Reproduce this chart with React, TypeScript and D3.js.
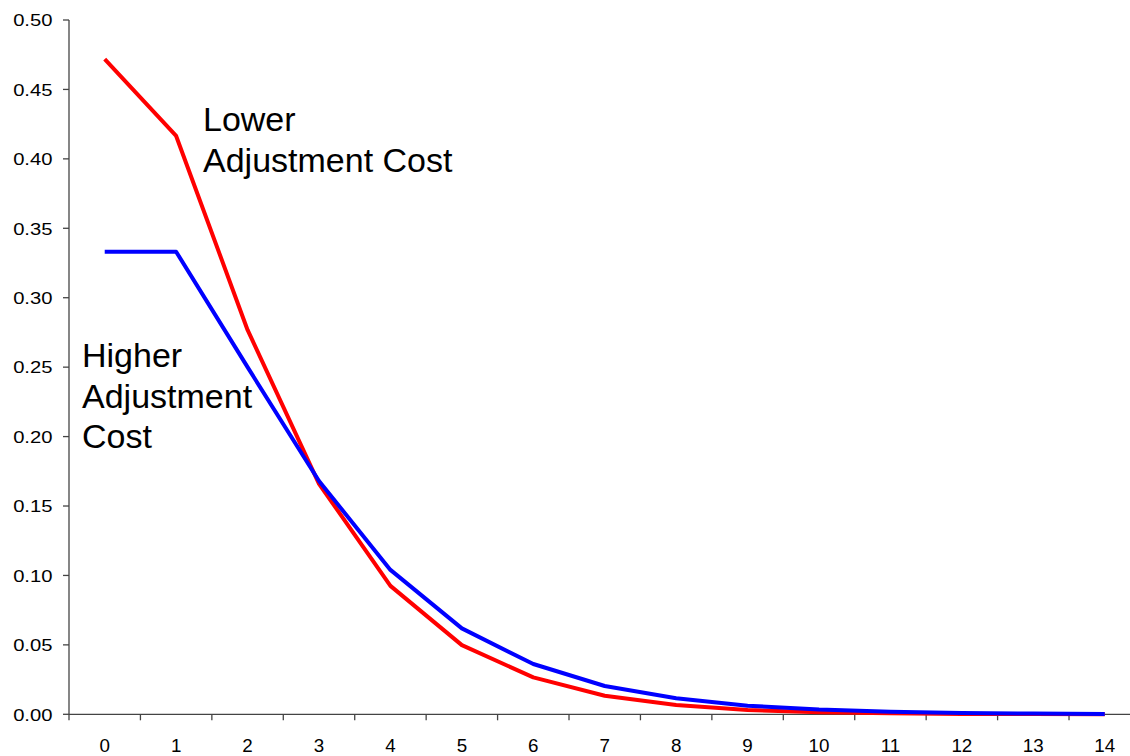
import React, { useEffect, useRef } from "react";
import * as d3 from "d3";

const categories = ["0","1","2","3","4","5","6","7","8","9","10","11","12","13","14"];
const lowerCost = [0.4718, 0.4165, 0.2768, 0.1660, 0.0925, 0.0498, 0.0266, 0.0134, 0.0067, 0.0031, 0.0015, 0.0007, 0.0003, 0.0002, 0.0001];
const higherCost = [0.3331, 0.3331, 0.2500, 0.1680, 0.1040, 0.0619, 0.0362, 0.0204, 0.0115, 0.0062, 0.0034, 0.0018, 0.0010, 0.0005, 0.0003];
const yTicks = [0, 0.05, 0.1, 0.15, 0.2, 0.25, 0.3, 0.35, 0.4, 0.45, 0.5];

const W = 1130;
const H = 756;
const left = 69;
const bandW = 71.43;
const top = 20;
const bottom = 714.3;

export default function App() {
  const ref = useRef<SVGSVGElement>(null);
  useEffect(() => {
    const svg = d3.select(ref.current);
    svg.selectAll("*").remove();
    const x = d3.scaleBand<string>().domain(categories).range([left, left + bandW * categories.length]).padding(0);
    const y = d3.scaleLinear().domain([0, 0.5]).range([bottom, top]);
    const font = "'Liberation Sans', Arial, sans-serif";

    // y axis
    svg.append("line").attr("x1", left).attr("x2", left).attr("y1", top).attr("y2", bottom).attr("stroke", "#444").attr("stroke-width", 1.3);
    yTicks.forEach((t) => {
      svg.append("line").attr("x1", left - 6).attr("x2", left).attr("y1", y(t)).attr("y2", y(t)).attr("stroke", "#444").attr("stroke-width", 1.3);
      svg.append("text").attr("transform", `translate(52.5,${y(t)}) scale(1.17,1)`).attr("dy", "0.36em").attr("text-anchor", "end")
        .attr("font-family", font).attr("font-size", 17.3).attr("fill", "#000").text(t.toFixed(2));
    });

    // x axis
    svg.append("line").attr("x1", left).attr("x2", W).attr("y1", bottom).attr("y2", bottom).attr("stroke", "#444").attr("stroke-width", 1.3);
    for (let i = 0; i <= categories.length; i++) {
      const xp = left + bandW * i;
      svg.append("line").attr("x1", xp).attr("x2", xp).attr("y1", bottom).attr("y2", bottom + 6).attr("stroke", "#444").attr("stroke-width", 1.3);
    }
    categories.forEach((c) => {
      svg.append("text").attr("x", (x(c) as number) + x.bandwidth() / 2).attr("y", 752).attr("text-anchor", "middle")
        .attr("font-family", font).attr("font-size", 18.8).attr("fill", "#000").text(c);
    });

    const line = d3.line<number>()
      .x((_, i) => (x(categories[i]) as number) + x.bandwidth() / 2)
      .y((d) => y(d));

    svg.append("path").datum(lowerCost).attr("d", line).attr("fill", "none").attr("stroke", "#FF0000").attr("stroke-width", 4).attr("stroke-linejoin", "round");
    svg.append("path").datum(higherCost).attr("d", line).attr("fill", "none").attr("stroke", "#0000FF").attr("stroke-width", 4).attr("stroke-linejoin", "round");

    const addText = (xp: number, yp: number, s: string) =>
      svg.append("text").attr("x", xp).attr("y", yp).attr("font-family", font).attr("font-size", 34).attr("fill", "#000").text(s);
    addText(203, 131, "Lower");
    addText(203, 172, "Adjustment Cost");
    addText(82, 367, "Higher");
    addText(82, 408, "Adjustment");
    addText(82, 448, "Cost");
  }, []);
  return (
    <svg ref={ref} width={W} height={H} style={{ position: "absolute", left: 0, top: 0, background: "#fff" }} />
  );
}
